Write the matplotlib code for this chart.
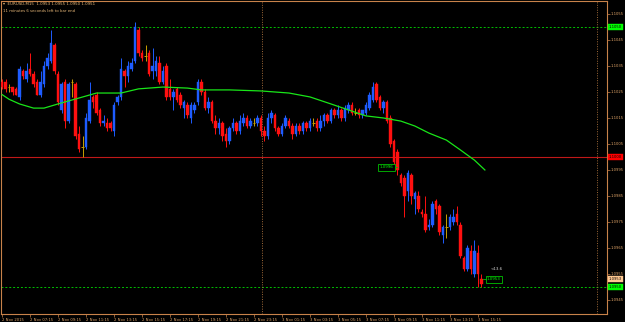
"""EURUSD M15 candlestick chart in MT4 black style."""

import matplotlib

matplotlib.use("Agg")
import matplotlib.pyplot as plt
import matplotlib.transforms as mtransforms

opens = [
    1.1029, 1.1029, 1.1027, 1.1027, 1.1026, 1.1023, 1.1033, 1.1030, 1.1034, 1.1032,
    1.1029, 1.1024, 1.1028, 1.1035, 1.1037, 1.1043, 1.1032, 1.1018, 1.1029, 1.1014,
    1.1029, 1.1028, 1.1009, 1.1004, 1.1004, 1.1014, 1.1023, 1.1024, 1.1018, 1.1013,
    1.1013, 1.1013, 1.1010, 1.1021, 1.1023, 1.1033, 1.1031, 1.1034, 1.1037, 1.1049,
    1.1040, 1.1039, 1.1040, 1.1033, 1.1033, 1.1036, 1.1029, 1.1035, 1.1026, 1.1023,
    1.1026, 1.1024, 1.1019, 1.1020, 1.1015, 1.1018, 1.1021, 1.1029, 1.1025, 1.1019,
    1.1021, 1.1014, 1.1011, 1.1013, 1.1009, 1.1006, 1.1011, 1.1013, 1.1010, 1.1013,
    1.1015, 1.1012, 1.1013, 1.1013, 1.1015, 1.1010, 1.1008, 1.1015, 1.1016, 1.1011,
    1.1009, 1.1012, 1.1014, 1.1012, 1.1009, 1.1012, 1.1010, 1.1013, 1.1011, 1.1013,
    1.1014, 1.1011, 1.1014, 1.1016, 1.1014, 1.1018, 1.1016, 1.1018, 1.1015, 1.1018,
    1.1020, 1.1017, 1.1018, 1.1016, 1.1017, 1.1019, 1.1022, 1.1028, 1.1023, 1.1019,
    1.1021, 1.1015, 1.1006, 1.1002, 1.0993, 1.0992, 1.0987, 1.0993, 1.0984, 1.0985,
    1.0979, 1.0978, 1.0973, 1.0974, 1.0983, 1.0981, 1.0970, 1.0973, 1.0973, 1.0975,
    1.0978, 1.0974, 1.0961, 1.0957, 1.0964, 1.0955, 1.0963, 1.0953,
]
highs = [
    1.1030, 1.1030, 1.1028, 1.1027, 1.1027, 1.1035, 1.1034, 1.1036, 1.1040, 1.1033,
    1.1030, 1.1033, 1.1037, 1.1040, 1.1049, 1.1044, 1.1033, 1.1029, 1.1030, 1.1029,
    1.1030, 1.1029, 1.1012, 1.1008, 1.1017, 1.1029, 1.1024, 1.1025, 1.1019, 1.1016,
    1.1015, 1.1014, 1.1021, 1.1024, 1.1038, 1.1034, 1.1037, 1.1038, 1.1052, 1.1050,
    1.1041, 1.1043, 1.1041, 1.1042, 1.1039, 1.1039, 1.1035, 1.1036, 1.1030, 1.1026,
    1.1027, 1.1025, 1.1022, 1.1021, 1.1021, 1.1021, 1.1030, 1.1030, 1.1026, 1.1023,
    1.1022, 1.1016, 1.1015, 1.1014, 1.1011, 1.1012, 1.1015, 1.1014, 1.1016, 1.1017,
    1.1016, 1.1015, 1.1015, 1.1016, 1.1016, 1.1012, 1.1017, 1.1018, 1.1017, 1.1012,
    1.1013, 1.1016, 1.1015, 1.1013, 1.1013, 1.1013, 1.1014, 1.1014, 1.1015, 1.1015,
    1.1015, 1.1016, 1.1017, 1.1017, 1.1019, 1.1019, 1.1020, 1.1019, 1.1020, 1.1021,
    1.1021, 1.1019, 1.1019, 1.1018, 1.1021, 1.1025, 1.1029, 1.1029, 1.1024, 1.1022,
    1.1022, 1.1016, 1.1007, 1.1003, 1.0994, 1.0993, 1.0995, 1.0994, 1.0987, 1.0987,
    1.0980, 1.0985, 1.0976, 1.0983, 1.0984, 1.0982, 1.0974, 1.0978, 1.0978, 1.0980,
    1.0981, 1.0975, 1.0962, 1.0966, 1.0966, 1.0968, 1.0966, 1.0955,
]
lows = [
    1.1026, 1.1025, 1.1025, 1.1024, 1.1024, 1.1022, 1.1030, 1.1029, 1.1031, 1.1027,
    1.1024, 1.1023, 1.1027, 1.1034, 1.1036, 1.1032, 1.1020, 1.1017, 1.1011, 1.1013,
    1.1023, 1.1007, 1.1002, 1.1000, 1.1003, 1.1013, 1.1019, 1.1016, 1.1012, 1.1012,
    1.1010, 1.1010, 1.1008, 1.1020, 1.1022, 1.1027, 1.1029, 1.1033, 1.1036, 1.1039,
    1.1037, 1.1037, 1.1031, 1.1030, 1.1031, 1.1028, 1.1028, 1.1022, 1.1022, 1.1018,
    1.1021, 1.1019, 1.1015, 1.1015, 1.1013, 1.1017, 1.1020, 1.1024, 1.1018, 1.1017,
    1.1013, 1.1009, 1.1009, 1.1006, 1.1004, 1.1005, 1.1010, 1.1009, 1.1009, 1.1012,
    1.1011, 1.1011, 1.1012, 1.1012, 1.1008, 1.1006, 1.1007, 1.1013, 1.1010, 1.1008,
    1.1008, 1.1011, 1.1011, 1.1007, 1.1008, 1.1009, 1.1009, 1.1010, 1.1010, 1.1012,
    1.1010, 1.1010, 1.1012, 1.1013, 1.1013, 1.1015, 1.1015, 1.1014, 1.1014, 1.1017,
    1.1016, 1.1016, 1.1015, 1.1015, 1.1016, 1.1018, 1.1021, 1.1021, 1.1018, 1.1017,
    1.1013, 1.1004, 1.0997, 1.0993, 1.0989, 1.0977, 1.0983, 1.0982, 1.0978, 1.0979,
    1.0977, 1.0971, 1.0972, 1.0973, 1.0978, 1.0970, 1.0967, 1.0969, 1.0972, 1.0974,
    1.0974, 1.0961, 1.0956, 1.0956, 1.0955, 1.0954, 1.0950, 1.0950,
]
closes = [
    1.1027, 1.1026, 1.1027, 1.1025, 1.1024, 1.1034, 1.1031, 1.1033, 1.1032, 1.1028,
    1.1024, 1.1029, 1.1035, 1.1038, 1.1044, 1.1033, 1.1021, 1.1028, 1.1014, 1.1028,
    1.1029, 1.1008, 1.1003, 1.1004, 1.1015, 1.1022, 1.1021, 1.1017, 1.1013, 1.1014,
    1.1011, 1.1011, 1.1020, 1.1023, 1.1034, 1.1031, 1.1035, 1.1036, 1.1050, 1.1040,
    1.1038, 1.1039, 1.1032, 1.1035, 1.1037, 1.1029, 1.1033, 1.1023, 1.1023, 1.1025,
    1.1022, 1.1020, 1.1021, 1.1016, 1.1020, 1.1020, 1.1029, 1.1025, 1.1019, 1.1021,
    1.1014, 1.1011, 1.1013, 1.1008, 1.1006, 1.1011, 1.1013, 1.1010, 1.1014, 1.1015,
    1.1012, 1.1014, 1.1013, 1.1015, 1.1010, 1.1008, 1.1015, 1.1017, 1.1011, 1.1009,
    1.1012, 1.1015, 1.1012, 1.1009, 1.1012, 1.1010, 1.1013, 1.1011, 1.1014, 1.1013,
    1.1011, 1.1014, 1.1016, 1.1014, 1.1018, 1.1016, 1.1018, 1.1015, 1.1019, 1.1020,
    1.1017, 1.1017, 1.1016, 1.1018, 1.1020, 1.1024, 1.1027, 1.1022, 1.1019, 1.1021,
    1.1014, 1.1005, 1.0998, 1.0995, 1.0990, 1.0985, 1.0994, 1.0985, 1.0986, 1.0980,
    1.0978, 1.0972, 1.0974, 1.0982, 1.0980, 1.0971, 1.0973, 1.0973, 1.0977, 1.0977,
    1.0975, 1.0962, 1.0957, 1.0965, 1.0957, 1.0964, 1.0955, 1.0951,
]

# moving average read at selected bars
ma_bars = [0, 2, 5, 9, 12, 17, 21, 27, 34, 39, 46, 53, 57, 65, 74, 82, 88, 94,
           99, 104, 109, 114, 118, 122, 127, 131, 135, 138]
ma_values = [1.10240, 1.10222, 1.10204, 1.10188, 1.10188, 1.10208, 1.10223,
             1.10246, 1.10246, 1.10262, 1.10269, 1.10265, 1.10258, 1.10258,
             1.10254, 1.10246, 1.10231, 1.10204, 1.10181, 1.10158, 1.10150,
             1.10138, 1.10119, 1.10092, 1.10065, 1.10027, 1.09988, 1.09950]

time_labels = ["2 Nov 2015", "2 Nov 07:15", "2 Nov 09:15", "2 Nov 11:15",
               "2 Nov 13:15", "2 Nov 15:15", "2 Nov 17:15", "2 Nov 19:15",
               "2 Nov 21:15", "2 Nov 23:15", "3 Nov 01:15", "3 Nov 03:15",
               "3 Nov 05:15", "3 Nov 07:15", "3 Nov 09:15", "3 Nov 11:15",
               "3 Nov 13:15", "3 Nov 15:15"]
price_ticks = [1.1055, 1.1045, 1.1035, 1.1025, 1.1015, 1.1005, 1.0995,
               1.0985, 1.0975, 1.0965, 1.0955, 1.0945]

upper_level = 1.1050
lower_level = 1.0950
red_level = 1.1000
bid_label = 1.0953
separator_bars = [74.3, 170.0]

W, H = 625, 322
AXC = "#c8824a"
BG = "black"
UP = "#1e5cff"
DOWN = "#ff1010"
DOJI = "#c8a000"
FS = 2.7

fig = plt.figure(figsize=(W / 100, H / 100), dpi=100, facecolor=BG)
ax = fig.add_axes([1 / W, 1 - 314 / H, 606 / W, 313 / H], facecolor=BG)

ax.set_xlim(-0.3, 172.9)
ax.set_ylim(1.09396, 1.10600)

# levels and separators
ax.axhline(upper_level, color="#00c000", lw=0.7, ls=(0, (2, 2)), zorder=1)
ax.axhline(lower_level, color="#00c000", lw=0.7, ls=(0, (2, 2)), zorder=1)
ax.axhline(red_level, color="#c01818", lw=0.8, zorder=1)
for b in separator_bars:
    ax.axvline(b, color="#a06a38", lw=0.7, ls=(0, (1, 1.5)), zorder=1)

# candles
for i, (o, h, l, c) in enumerate(zip(opens, highs, lows, closes)):
    if c > o:
        col = UP
    elif c < o:
        col = DOWN
    else:
        col = DOJI
    ax.vlines(i, l, h, color=col, lw=0.7, zorder=3)
    if c == o:
        ax.hlines(o, i - 0.4, i + 0.4, color=col, lw=0.7, zorder=3)
    else:
        ax.bar(i, abs(c - o), bottom=min(o, c), width=0.75, color=col,
               edgecolor=col, lw=0.3, zorder=3)

ax.plot(ma_bars, ma_values, color="#19e619", lw=0.9, zorder=4)

# axis styling
for side in ["left", "top", "right", "bottom"]:
    ax.spines[side].set_color(AXC)
    ax.spines[side].set_linewidth(0.8)
ax.yaxis.tick_right()
ax.set_yticks(price_ticks)
ax.set_yticklabels([f"{p:.4f}" for p in price_ticks])
ax.set_xticks(range(0, 8 * len(time_labels), 8))
ax.set_xticklabels(time_labels)
ax.tick_params(colors=AXC, labelcolor="#e0a468", labelsize=FS, length=2,
               width=0.5, pad=0.8)
for lab in ax.get_xticklabels():
    lab.set_horizontalalignment("left")

# price boxes on the right scale
tr = mtransforms.blended_transform_factory(ax.transAxes, ax.transData)
boxes = [(upper_level, "#00ff00"), (red_level, "#ff0000"),
         (bid_label, "#ffc890"), (lower_level, "#00ff00")]
for p, fc in boxes:
    ax.text(1.003, p, f"{p:.4f}", transform=tr, ha="left", va="center",
            fontsize=FS, color="black", clip_on=False,
            bbox=dict(boxstyle="square,pad=0.3", fc=fc, ec=fc, lw=0.3))

# price labels on the chart
ax.plot([112, 113], [1.0996, 1.0996], color="#00c000", lw=0.6, zorder=5)
ax.text(111.9, 1.0996, "1.0996", ha="right", va="center", fontsize=2.9,
        color="#00ff00", zorder=6,
        bbox=dict(boxstyle="square,pad=0.35", fc="black", ec="#00c000", lw=0.6))
ax.plot([137.5, 138.5], [1.0953, 1.0953], color="#00c000", lw=0.6, zorder=5)
ax.text(138.6, 1.0953, "1.0953", ha="left", va="center", fontsize=2.9,
        color="#00ff00", zorder=6,
        bbox=dict(boxstyle="square,pad=0.35", fc="black", ec="#00c000", lw=0.6))
ax.text(139.6, 1.09568, "<13.6", ha="left", va="center", fontsize=2.9,
        color="#d8d8d8", zorder=6)

# header
fig.text(3 / W, 1 - 4 / H, "\u25be  EURUSD,M15  1.0953 1.0955 1.0950 1.0951",
         fontsize=2.9, color="#e8b878", va="center", ha="left")
fig.text(3 / W, 1 - 11 / H, "11 minutes 6 seconds left to bar end",
         fontsize=2.8, color="#e8b878", va="center", ha="left")

fig.savefig("out.png", dpi=100, facecolor=BG)
